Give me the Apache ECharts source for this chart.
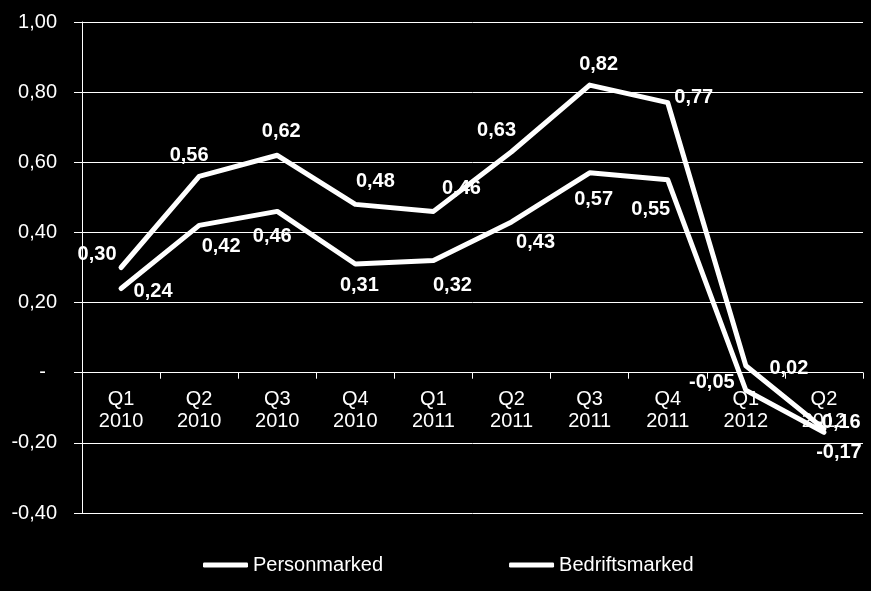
<!DOCTYPE html>
<html>
<head>
<meta charset="utf-8">
<title>Personmarked / Bedriftsmarked</title>
<script src="https://cdn.jsdelivr.net/npm/echarts@6/dist/echarts.min.js"></script>
<style>
  html, body { margin: 0; padding: 0; background: #000; }
  #chart { width: 871px; height: 591px; }
</style>
</head>
<body>
<div id="chart"></div>
<script>
// data
const categories = ["Q1\n2010", "Q2\n2010", "Q3\n2010", "Q4\n2010", "Q1\n2011", "Q2\n2011", "Q3\n2011", "Q4\n2011", "Q1\n2012", "Q2\n2012"];
const personmarked = [0.30, 0.56, 0.62, 0.48, 0.46, 0.63, 0.82, 0.77, 0.02, -0.16];
const bedriftsmarked = [0.24, 0.42, 0.46, 0.31, 0.32, 0.43, 0.57, 0.55, -0.05, -0.17];
const seriesNames = ["Personmarked", "Bedriftsmarked"];

// where each value label sits relative to its point (px)
const personLabelOffset = [[-24, -13], [-10, -21], [4, -24], [20, -23], [28, -23], [-15, -21], [9, -21], [26, -5], [43, 3], [14, -6]];
const bedriftLabelOffset = [[32, 3], [22, 21], [-5, 25], [4, 21], [19, 25], [24, 21], [4, 27], [-17, 30], [-34, -8], [15, 20]];

const fontFamily = "'Liberation Sans', Arial, sans-serif";

function fmt(v) {
  return v.toFixed(2).replace(".", ",");
}

function withLabels(values, offsets) {
  return values.map(function (v, i) {
    return { value: v, label: { offset: offsets[i] } };
  });
}

let chart = echarts.init(document.getElementById("chart"));

let lineSeries = function (name, values, offsets) {
  return {
    name: name,
    type: "line",
    // tiny symbol so the labels get drawn; the line itself is what shows
    symbol: "circle",
    symbolSize: 0.1,
    showSymbol: true,
    lineStyle: { color: "#fff", width: 5, cap: "round", join: "round" },
    itemStyle: { color: "#fff" },
    label: {
      show: true,
      position: "inside",
      color: "#fff",
      fontFamily: fontFamily,
      fontWeight: "bold",
      fontSize: 20,
      formatter: function (p) { return fmt(p.value); },
    },
    emphasis: { disabled: true },
    data: withLabels(values, offsets),
  };
};

let option = {
  backgroundColor: "#000",
  animation: false,
  grid: { left: 82, right: 8, top: 22, bottom: 78, containLabel: false },
  legend: {
    left: 203,
    top: 555,
    padding: 0,
    icon: "roundRect",
    itemWidth: 45,
    itemHeight: 5,
    itemGap: 126,
    textStyle: { color: "#fff", fontSize: 20, fontFamily: fontFamily },
    data: seriesNames,
  },
  xAxis: {
    type: "category",
    data: categories,
    boundaryGap: true,
    axisLine: { show: true, onZero: true, lineStyle: { color: "#fff", width: 1 } },
    axisTick: { show: true, interval: 0, length: 6, lineStyle: { color: "#fff" } },
    axisLabel: {
      interval: 0,
      color: "#fff",
      fontSize: 20,
      lineHeight: 22,
      // labels hang under the zero line, 140px above the grid bottom
      margin: -125,
      fontFamily: fontFamily,
    },
    splitLine: { show: false },
  },
  yAxis: {
    type: "value",
    min: -0.4,
    max: 1.0,
    interval: 0.2,
    axisLine: { show: true, lineStyle: { color: "#fff", width: 1 } },
    axisTick: { show: true, length: 8, lineStyle: { color: "#fff" } },
    axisLabel: {
      color: "#fff",
      fontSize: 20,
      margin: 25,
      fontFamily: fontFamily,
      formatter: function (v) {
        return Math.abs(v) < 1e-9 ? "-  " : fmt(v);
      },
    },
    splitLine: { show: true, lineStyle: { color: "#fff", width: 1 } },
  },
  series: [
    lineSeries(seriesNames[0], personmarked, personLabelOffset),
    lineSeries(seriesNames[1], bedriftsmarked, bedriftLabelOffset),
  ],
};

chart.setOption(option, true);
window.addEventListener("resize", function () {
  chart.resize();
});
</script>
</body>
</html>
